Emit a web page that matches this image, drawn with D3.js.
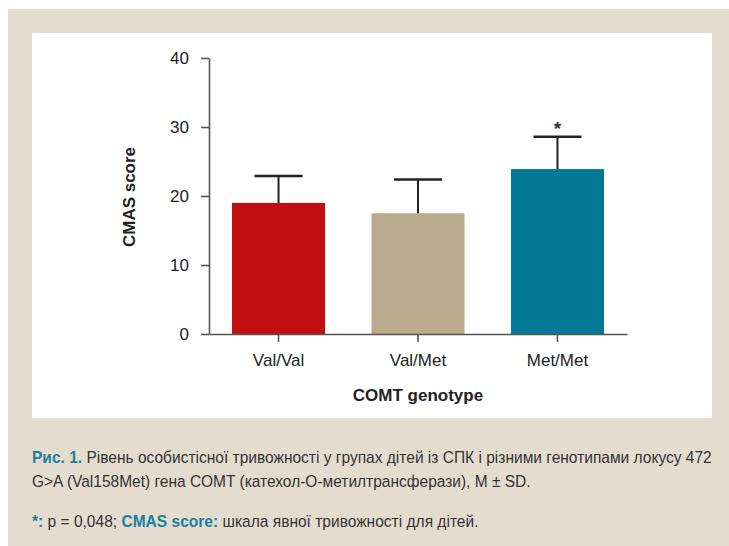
<!DOCTYPE html>
<html>
<head>
<meta charset="utf-8">
<script src="https://cdn.jsdelivr.net/npm/d3@7"></script>
<style>
  body { margin: 0; background: #fff; }
  svg { display: block; }
  .tick text { font-family: "Liberation Sans", Arial, sans-serif; font-size: 17px; fill: #222; }
</style>
</head>
<body>
<div id="chart"></div>
<script>
// data
var genotypes = ["Val/Val", "Val/Met", "Met/Met"];
var means = [19.0, 17.5, 23.9];
var sds = [3.9, 4.9, 4.7];
var barColors = ["#c00e11", "#bbab8e", "#007896"];
var yTicks = [0, 10, 20, 30, 40];
var signif = ["", "", "*"];

var svgWidth = 729, svgHeight = 546;

var svg = d3.select("#chart").append("svg")
  .attr("width", svgWidth)
  .attr("height", svgHeight);

// beige frame + white panel
svg.append("rect").attr("x", 8).attr("y", 9).attr("width", 721).attr("height", 537).attr("fill", "#e5dcd0");
svg.append("rect").attr("x", 32).attr("y", 33).attr("width", 680).attr("height", 385).attr("fill", "#fff");

var x = d3.scaleBand()
  .domain(genotypes)
  .range([209, 627])
  .paddingInner(0.333)
  .paddingOuter(0.165);

var y = d3.scaleLinear()
  .domain([0, 40])
  .range([334, 58]);

// bars
svg.selectAll(".bar").data(genotypes).enter().append("rect")
  .attr("class", "bar")
  .attr("x", d => x(d))
  .attr("y", (d, i) => y(means[i]))
  .attr("width", x.bandwidth())
  .attr("height", (d, i) => y(0) - y(means[i]))
  .attr("fill", (d, i) => barColors[i]);

// error bars (upper only)
var err = svg.selectAll(".err").data(genotypes).enter().append("g").attr("class", "err");
err.append("line")
  .attr("x1", d => x(d) + x.bandwidth() / 2)
  .attr("x2", d => x(d) + x.bandwidth() / 2)
  .attr("y1", (d, i) => y(means[i]))
  .attr("y2", (d, i) => y(means[i] + sds[i]))
  .attr("stroke", "#222").attr("stroke-width", 2);
err.append("line")
  .attr("x1", d => x(d) + x.bandwidth() / 2 - 24)
  .attr("x2", d => x(d) + x.bandwidth() / 2 + 24)
  .attr("y1", (d, i) => y(means[i] + sds[i]))
  .attr("y2", (d, i) => y(means[i] + sds[i]))
  .attr("stroke", "#222").attr("stroke-width", 2.5);
err.append("text")
  .attr("x", d => x(d) + x.bandwidth() / 2)
  .attr("y", (d, i) => y(means[i] + sds[i]) - 2)
  .attr("text-anchor", "middle")
  .attr("font-family", "Liberation Sans, Arial, sans-serif")
  .attr("font-size", 19).attr("font-weight", "bold")
  .attr("fill", "#333")
  .text((d, i) => signif[i]);

// axes
var leftAxis = d3.axisLeft(y).tickValues(yTicks).tickSize(8).tickSizeOuter(0).tickPadding(12);
var bottomAxis = d3.axisBottom(x).tickSize(8).tickSizeOuter(0).tickPadding(11);

var yAx = svg.append("g").attr("transform", "translate(209,0)").call(leftAxis);
var xAx = svg.append("g").attr("transform", "translate(0,334)").call(bottomAxis);
[yAx, xAx].forEach(function(g) {
  g.select(".domain").attr("stroke", "#555").attr("stroke-width", 1.6);
  g.selectAll(".tick line").attr("stroke", "#555").attr("stroke-width", 1.6);
});
xAx.selectAll(".tick text").attr("dy", "0.75em");

// axis titles
svg.append("text")
  .attr("x", 418).attr("y", 401)
  .attr("text-anchor", "middle")
  .attr("font-family", "Liberation Sans, Arial, sans-serif")
  .attr("font-size", 17).attr("font-weight", "bold").attr("fill", "#222")
  .text("COMT genotype");

svg.append("text")
  .attr("transform", "translate(135,197) rotate(-90)")
  .attr("text-anchor", "middle")
  .attr("font-family", "Liberation Sans, Arial, sans-serif")
  .attr("font-size", 17).attr("font-weight", "bold").attr("fill", "#222")
  .text("CMAS score");

// caption, squeezed to look like a narrow font
var capBlue = "#1b7fa2", capText = "#333";
var captionLines = [
  { y: 463, width: 680, parts: [["Рис. 1.", true], [" Рівень особистісної тривожності у групах дітей із СПК і різними генотипами локусу 472", false]] },
  { y: 487, width: 499, parts: [["G>A (Val158Met) гена COMT (катехол-О-метилтрансферази), M ± SD.", false]] },
  { y: 527, width: 447, parts: [["*:", true], [" p = 0,048; ", false], ["CMAS score:", true], [" шкала явної тривожності для дітей.", false]] }
];
captionLines.forEach(function(line) {
  var g = svg.append("g");
  var t = g.append("text")
    .attr("x", 0).attr("y", 0)
    .attr("font-family", "Liberation Sans Narrow, Arial Narrow, Liberation Sans, sans-serif")
    .attr("font-size", 16.5);
  line.parts.forEach(function(p) {
    t.append("tspan")
      .attr("fill", p[1] ? capBlue : capText)
      .attr("font-weight", p[1] ? "bold" : "normal")
      .text(p[0]);
  });
  var w = t.node().getComputedTextLength();
  g.attr("transform", "translate(32," + line.y + ") scale(" + (line.width / w) + ",1)");
});
</script>
</body>
</html>
